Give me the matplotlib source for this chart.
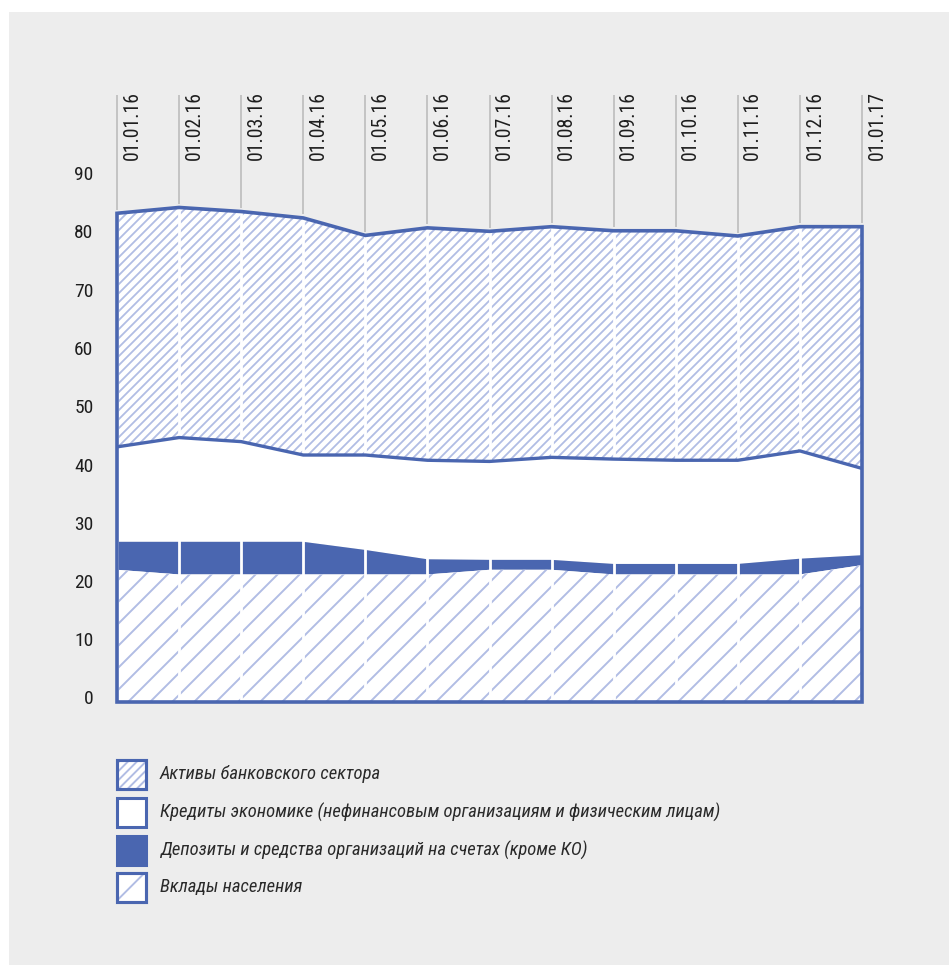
import numpy as np
import matplotlib
matplotlib.use("Agg")
import matplotlib.pyplot as plt
from matplotlib.patches import Polygon, Rectangle
from matplotlib.collections import LineCollection
from matplotlib.transforms import IdentityTransform, ScaledTranslation, offset_copy

plt.rcParams['font.family'] = ['Roboto Condensed', 'Roboto', 'DejaVu Sans']

# ---------------- data (трлн руб.) ----------------
dates = ['01.01.16', '01.02.16', '01.03.16', '01.04.16', '01.05.16', '01.06.16',
         '01.07.16', '01.08.16', '01.09.16', '01.10.16', '01.11.16', '01.12.16', '01.01.17']
assets = [83.9, 84.9, 84.2, 83.1, 80.1, 81.4, 80.8, 81.6, 80.9, 80.9, 80.0, 81.6, 81.6]
credits = [43.8, 45.4, 44.7, 42.4, 42.4, 41.5, 41.3, 42.0, 41.7, 41.5, 41.5, 43.1, 40.1]
deposits = [27.5, 27.5, 27.5, 27.5, 26.1, 24.5, 24.4, 24.4, 23.7, 23.7, 23.7, 24.6, 25.2]
households = [22.7, 21.9, 21.9, 21.9, 21.9, 21.9, 22.7, 22.7, 21.9, 21.9, 21.9, 21.9, 23.5]
yticks = [0, 10, 20, 30, 40, 50, 60, 70, 80, 90]
legend_labels = ['Активы банковского сектора',
                 'Кредиты экономике (нефинансовым организациям и физическим лицам)',
                 'Депозиты и средства организаций на счетах (кроме КО)',
                 'Вклады населения']

BLUE = '#4a66b0'
HATCH = '#b1bde4'
GRAY = '#b8b8b8'
W, H = 949, 965

fig = plt.figure(figsize=(W / 100, H / 100), dpi=100, facecolor='white')
# paper background
fig.patches.append(Rectangle((9 / W, 0), 940 / W, 953 / H, transform=fig.transFigure,
                             facecolor='#ededed', edgecolor='none', zorder=-10))

# axes: x 117..862 px, y 702 (0) .. 92 px (top)
px_per_unit = 5.825
ytop = (702 - 92) / px_per_unit
ax = fig.add_axes([117 / W, (H - 702) / H, (862 - 117) / W, (702 - 92) / H])
ax.patch.set_visible(False)
x = np.arange(len(dates))
ax.set_xlim(0, len(dates) - 1)
ax.set_ylim(0, ytop)
for s in ax.spines.values():
    s.set_visible(False)
ax.set_xticks([])
ax.set_yticks(yticks)
ax.set_yticklabels([str(v) for v in yticks])
ax.tick_params(axis='y', length=0, pad=17, labelsize=14, labelcolor='#1e1e1e')
for lab in ax.get_yticklabels():
    lab.set_transform(lab.get_transform() + ScaledTranslation(0, 4.5 / 100, fig.dpi_scale_trans))


def band(lower, upper, **kw):
    verts = list(zip(x, upper)) + list(zip(x[::-1], list(lower)[::-1]))
    p = Polygon(verts, closed=True, **kw)
    ax.add_patch(p)
    return p


def hatch(container, clip, spacing, x0, x1, y0, y1, lw=1.3, zorder=2):
    # '/' lines in display pixels: y - x = c
    cs = np.arange(y0 - x1, y1 - x0 + spacing, spacing)
    segs = [[(x0, x0 + c), (x1, x1 + c)] for c in cs]
    lc = LineCollection(segs, colors=HATCH, linewidths=lw, transform=IdentityTransform(),
                        zorder=zorder)
    lc.set_clip_path(clip)
    if hasattr(container, 'add_collection'):
        container.add_collection(lc, autolim=False)
    else:
        container.add_artist(lc)
    return lc


zeros = [0] * len(x)
top_area = band(credits, assets, facecolor='white', edgecolor='none', zorder=1)
mid_area = band(deposits, credits, facecolor='white', edgecolor='none', zorder=1)
dep_area = band(households, deposits, facecolor=BLUE, edgecolor='none', zorder=1)
bot_area = band(zeros, households, facecolor='white', edgecolor='none', zorder=1)

# hatch (display coords, bottom-left origin)
hatch(ax, top_area, 9, 100, 880, H - 720, H - 190, lw=1.3)
hatch(ax, bot_area, 22, 100, 880, H - 720, H - 540, lw=1.4)

# white separators inside areas
for xi, a in zip(x, assets):
    ax.plot([xi, xi], [0, a], color='white', lw=2, zorder=3, solid_capstyle='butt')
# gray guides above
for xi, a in zip(x, assets):
    ax.plot([xi, xi], [a + 0.6, (702 - 95) / px_per_unit], color=GRAY, lw=1.1, zorder=3,
            clip_on=False, solid_capstyle='butt')

# outlines
outline = list(zip(x, assets)) + [(x[-1], 0), (x[0], 0)]
ax.add_patch(Polygon(outline, closed=True, fill=False, edgecolor=BLUE, lw=2.6, zorder=4,
                     joinstyle='miter', clip_on=False))
ax.plot(x, credits, color=BLUE, lw=2.4, zorder=4, solid_joinstyle='round')

# date labels
lab_tr = offset_copy(ax.transData, fig=fig, x=15, y=0, units='dots')
ylab = (702 - 91) / px_per_unit
for xi, d in zip(x, dates):
    ax.text(xi, ylab, d, rotation=90, ha='center', va='top', fontsize=14.2,
            color='#1e1e1e', transform=lab_tr, clip_on=False)

# legend
rows = [774, 812, 850, 887]
styles = ['hatch_dense', 'white', 'solid', 'hatch_sparse']
for yc, lab, st in zip(rows, legend_labels, styles):
    bx0, bx1 = 117, 146
    by0, by1 = yc - 14.5, yc + 14.5
    rect = Rectangle((bx0 / W, 1 - by1 / H), (bx1 - bx0) / W, (by1 - by0) / H,
                     transform=fig.transFigure,
                     facecolor=BLUE if st == 'solid' else 'white',
                     edgecolor=BLUE, lw=2.2, zorder=5)
    fig.add_artist(rect)
    if st.startswith('hatch'):
        sp = 9 if st == 'hatch_dense' else 30
        r2 = Rectangle((bx0 / W, 1 - by1 / H), (bx1 - bx0) / W, (by1 - by0) / H,
                       transform=fig.transFigure, facecolor='none', edgecolor='none')
        fig.add_artist(r2)
        hatch(fig, r2, sp, bx0, bx1, H - by1, H - by0, lw=1.4, zorder=5.5)
        fig.add_artist(Rectangle((bx0 / W, 1 - by1 / H), (bx1 - bx0) / W, (by1 - by0) / H,
                                 transform=fig.transFigure, facecolor='none',
                                 edgecolor=BLUE, lw=2.2, zorder=6))
    fig.text(160 / W, 1 - yc / H, lab, ha='left', va='center', fontsize=13.4,
             style='italic', color='#2a2a2a')

fig.savefig('out.png', dpi=100)
